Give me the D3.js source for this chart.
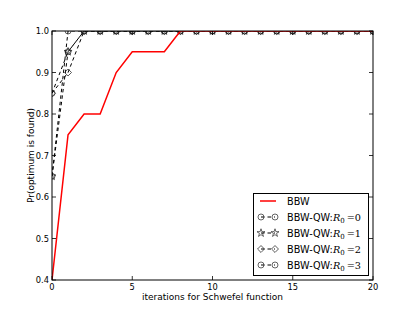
<!DOCTYPE html>
<html><head><meta charset="utf-8">
<script src="https://cdn.jsdelivr.net/npm/d3@7"></script>
<style>body{margin:0;background:#fff}svg{display:block}text{font-family:"DejaVu Sans",sans-serif}</style>
</head><body><svg id="c" width="415" height="313"></svg>
<script>
const iterations = d3.range(0, 21);
const bbw = [0.4,0.75,0.8,0.8,0.9,0.95,0.95,0.95,1,1,1,1,1,1,1,1,1,1,1,1,1];
const qwR0 = [0.65,1,1,1,1,1,1,1,1,1,1,1,1,1,1,1,1,1,1,1,1];
const qwR1 = [0.65,0.95,1,1,1,1,1,1,1,1,1,1,1,1,1,1,1,1,1,1,1];
const qwR2 = [0.85,0.9,1,1,1,1,1,1,1,1,1,1,1,1,1,1,1,1,1,1,1];
const qwR3 = [0.85,0.95,1,1,1,1,1,1,1,1,1,1,1,1,1,1,1,1,1,1,1];
const xTicks = [0,5,10,15,20];
const yTicks = [0.4,0.5,0.6,0.7,0.8,0.9,1.0];
const seriesNames = ["R0=0","R0=1","R0=2","R0=3"];
const seriesVals = [qwR0,qwR1,qwR2,qwR3];
const markerKinds = ["circle","star","diamond","circle"];

const svg = d3.select("#c");
const L=52, R=373, T=31, B=280;
const x = d3.scaleLinear().domain([0,20]).range([L,R]);
const y = d3.scaleLinear().domain([0.4,1.0]).range([B,T]);

svg.append("defs").append("clipPath").attr("id","clip")
  .append("rect").attr("x",L).attr("y",T).attr("width",R-L).attr("height",B-T);

function symPath(kind){
  if(kind==="circle") return d3.symbol(d3.symbolCircle,28)();
  if(kind==="star") return d3.symbol(d3.symbolStar,20)();
  return d3.symbol(d3.symbolSquare,24)();
}
function addMarker(g,kind,cx,cy){
  g.append("path").attr("d",symPath(kind))
   .attr("transform",`translate(${cx},${cy})`+(kind==="diamond"?" rotate(45)":""))
   .attr("fill","none").attr("stroke","#222").attr("stroke-width",0.7);
}

const plot = svg.append("g").attr("clip-path","url(#clip)");
const line = d3.line().x((d,i)=>x(iterations[i])).y(d=>y(d));

seriesVals.forEach((vals,k)=>{
  plot.append("path").attr("d",line(vals)).attr("fill","none")
    .attr("stroke","#000").attr("stroke-width",1).attr("stroke-dasharray","3.5,3");
  vals.forEach((v,i)=>addMarker(plot,markerKinds[k],x(iterations[i]),y(v)));
});
plot.append("path").attr("d",line(bbw)).attr("fill","none")
  .attr("stroke","#ff0000").attr("stroke-width",1.5);

// frame
svg.append("rect").attr("x",L).attr("y",T).attr("width",R-L).attr("height",B-T)
  .attr("fill","none").attr("stroke","#000").attr("stroke-width",1);

// ticks (inside, all sides)
const tk = svg.append("g").attr("stroke","#000").attr("stroke-width",0.8);
xTicks.forEach(t=>{
  tk.append("line").attr("x1",x(t)).attr("x2",x(t)).attr("y1",B).attr("y2",B-4);
  tk.append("line").attr("x1",x(t)).attr("x2",x(t)).attr("y1",T).attr("y2",T+4);
});
yTicks.forEach(t=>{
  tk.append("line").attr("x1",L).attr("x2",L+4).attr("y1",y(t)).attr("y2",y(t));
  tk.append("line").attr("x1",R).attr("x2",R-4).attr("y1",y(t)).attr("y2",y(t));
});
const fmt = d3.format(".1f");
svg.append("g").selectAll("text").data(xTicks).join("text")
  .attr("x",d=>x(d)).attr("y",B+10).attr("text-anchor","middle")
  .attr("font-size",8.3).text(d=>d);
svg.append("g").selectAll("text").data(yTicks).join("text")
  .attr("x",L-3).attr("y",d=>y(d)+3).attr("text-anchor","end")
  .attr("font-size",8.3).text(d=>fmt(d));

svg.append("text").attr("x",(L+R)/2).attr("y",B+20).attr("text-anchor","middle")
  .attr("font-size",9).text("iterations for Schwefel function");
svg.append("text").attr("transform",`translate(34,${(T+B)/2}) rotate(-90)`)
  .attr("text-anchor","middle").attr("font-size",9).text("Pr(optimum is found)");

// legend
const lg = svg.append("g");
lg.append("rect").attr("x",253.5).attr("y",193.5).attr("width",115).attr("height",82)
  .attr("fill","#fff").attr("stroke","#000").attr("stroke-width",1);
const rowY = [201,217,233,249,265];
lg.append("line").attr("x1",260).attr("x2",276).attr("y1",rowY[0]).attr("y2",rowY[0])
  .attr("stroke","#ff0000").attr("stroke-width",1.5);
lg.append("text").attr("x",287).attr("y",rowY[0]+3.5).attr("font-size",9.7).text("BBW");
seriesNames.forEach((nm,k)=>{
  const yy=rowY[k+1];
  lg.append("line").attr("x1",261).attr("x2",275).attr("y1",yy).attr("y2",yy)
    .attr("stroke","#000").attr("stroke-width",1).attr("stroke-dasharray","3.5,3");
  addMarker(lg,markerKinds[k],261,yy);
  addMarker(lg,markerKinds[k],275,yy);
  const t = lg.append("text").attr("x",287).attr("y",yy+3.5).attr("font-size",9.7);
  t.append("tspan").text("BBW-QW:");
  t.append("tspan").attr("font-family","DejaVu Serif").attr("font-style","italic").text("R");
  t.append("tspan").attr("font-family","DejaVu Serif").attr("font-size",7).attr("dy",2).text("0");
  t.append("tspan").attr("font-family","DejaVu Serif").attr("dy",-2).attr("dx",2).text("="+nm.split("=")[1]);
});
</script></body></html>
